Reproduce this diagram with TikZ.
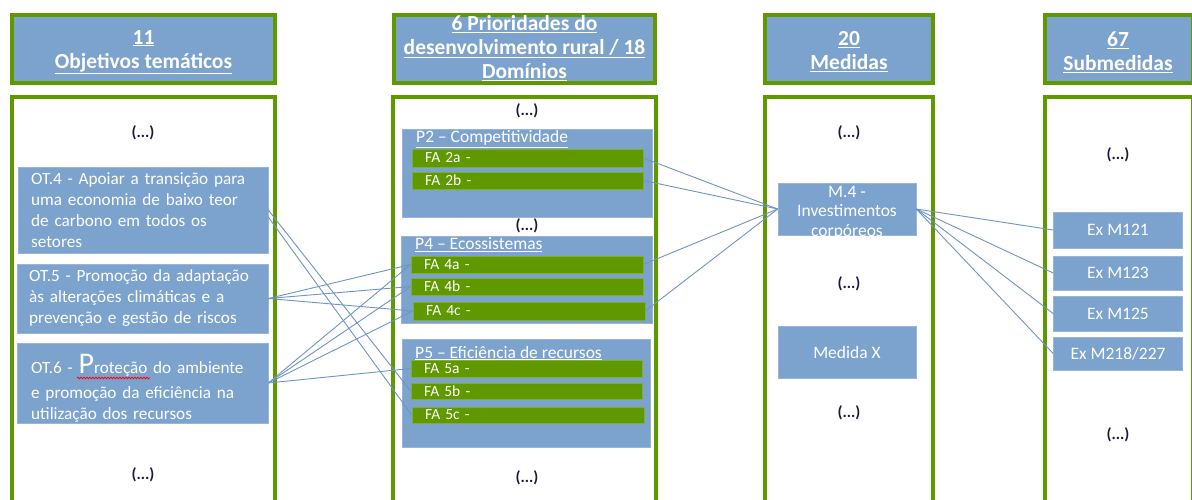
\documentclass[tikz,border=0pt]{standalone}
\usepackage{fontspec}
\setmainfont{Carlito}
\usetikzlibrary{calc,decorations.pathmorphing}
\definecolor{gr}{RGB}{96,152,0}
\definecolor{bl}{RGB}{124,162,206}
\definecolor{ln}{RGB}{111,148,197}
\definecolor{dk}{RGB}{25,25,60}
\begin{document}
\begin{tikzpicture}[x=1pt,y=-1pt,
  headbox/.style={draw=gr,line width=4pt,fill=bl,inner sep=0pt},
  headtext/.style={text=white,align=center,inner sep=0pt,
    font=\fontsize{21.5}{24}\selectfont\bfseries},
  colbox/.style={draw=gr,line width=4pt,fill=white,inner sep=0pt},
  bluebox/.style={fill=bl,draw=bl!80!white,line width=0.6pt,inner sep=0pt},
  fabar/.style={fill=gr,draw=gr!80!white,line width=0.6pt,text=white,inner xsep=13pt,inner ysep=0pt,
    align=left,font=\fontsize{15.5}{16}\selectfont},
  ptitle/.style={text=white,anchor=west,inner sep=0pt,font=\fontsize{17.5}{18}\selectfont},
  ottext/.style={text=white,anchor=west,inner sep=0pt,align=left,text width=236pt,
    font=\fontsize{17.2}{21}\selectfont},
  celltext/.style={text=white,inner sep=0pt,align=center,font=\fontsize{17.5}{19.5}\selectfont},
  dots/.style={text=dk,inner sep=0pt,font=\fontsize{16}{16}\selectfont\bfseries},
  link/.style={draw=ln,line width=0.9pt}]
\clip (0,0) rectangle (1192,499);
\fill[white] (0,0) rectangle (1192,499);
% headers
\node[headbox,minimum width=263pt,minimum height=68pt] (h1) at (143.5,49) {};
\node[headbox,minimum width=261pt,minimum height=68pt] (h2) at (524.5,49) {};
\node[headbox,minimum width=168pt,minimum height=68pt] (h3) at (849,49) {};
\node[headbox,minimum width=148pt,minimum height=68pt] (h4) at (1119,49) {};
\node[headtext] (h1t) at (143.5,52) {\underline{11}\\\underline{Objetivos temáticos}};
\node[headtext] (h2t) at (524.5,48.5) {\underline{6 Prioridades do}\\\underline{desenvolvimento rural / 18}\\\underline{Domínios}};
\node[headtext] (h3t) at (849,52) {\underline{20}\\\underline{Medidas}};
\node[headtext] (h4t) at (1118,52) {\underline{67}\\\underline{Submedidas}};
% column bodies
\node[colbox,minimum width=263pt,minimum height=423pt] (c1) at (143.5,308.5) {};
\node[colbox,minimum width=263pt,minimum height=423pt] (c2) at (524.5,308.5) {};
\node[colbox,minimum width=168pt,minimum height=423pt] (c3) at (849,308.5) {};
\node[colbox,minimum width=148pt,minimum height=423pt] (c4) at (1119,308.5) {};
% column 1
\node[dots] (d11) at (143,133) {(...)};
\node[dots] (d12) at (143,475) {(...)};
\node[bluebox,minimum width=250pt,minimum height=86pt] (ot4) at (143,210) {};
\node[bluebox,minimum width=251pt,minimum height=69pt] (ot5) at (142.5,298.5) {};
\node[bluebox,minimum width=251pt,minimum height=80pt] (ot6) at (142.5,383) {};
\node[ottext] (t4) at (31,210.5) {OT.4 - Apoiar a transição para\\uma economia de baixo teor\\de carbono em todos os\\setores};
\node[ottext] (t5) at (29,298) {OT.5 - Promoção da adaptação\\às alterações climáticas e a\\prevenção e gestão de riscos};
\node[ottext] (t6) at (31,388) {OT.6 - {\fontsize{30}{30}\selectfont P}roteção do ambiente\\[4pt]e promoção da eficiência na\\utilização dos recursos};
\draw[red,line width=0.7pt,decorate,decoration={snake,amplitude=0.9pt,segment length=3pt}] (77,378) -- (150,378);
% column 2
\node[dots] (d21) at (527,111) {(...)};
\node[dots] (d22) at (527,226) {(...)};
\node[dots] (d23) at (527,478) {(...)};
\node[bluebox,minimum width=250pt,minimum height=88pt] (p2) at (527,173) {};
\node[bluebox,minimum width=251pt,minimum height=87pt] (p4) at (526.5,279.5) {};
\node[bluebox,minimum width=248pt,minimum height=108pt] (p5) at (526,393) {};
\node[ptitle] (p2t) at (416,139) {\underline{P2 – Competitividade}};
\node[ptitle] (p4t) at (415,245) {\underline{P4 – Ecossistemas}};
\node[ptitle] (p5t) at (415,353) {\underline{P5 – Eficiência de recursos}};
\node[fabar,text width=205pt,minimum height=18pt] (fa2a) at (527.5,158) {FA 2a -};
\node[fabar,text width=205pt,minimum height=17pt] (fa2b) at (527.5,180.5) {FA 2b -};
\node[fabar,text width=206pt,minimum height=17pt] (fa4a) at (527,264.5) {FA 4a -};
\node[fabar,text width=206pt,minimum height=17pt] (fa4b) at (527,286.5) {FA 4b -};
\node[fabar,text width=206pt,minimum height=18pt] (fa4c) at (529,311) {FA 4c -};
\node[fabar,text width=205pt,minimum height=17pt] (fa5a) at (526.5,368.5) {FA 5a -};
\node[fabar,text width=205pt,minimum height=16pt] (fa5b) at (526.5,391) {FA 5b -};
\node[fabar,text width=206pt,minimum height=16pt] (fa5c) at (528,415) {FA 5c -};
% column 3
\node[dots] (d31) at (849,133) {(...)};
\node[dots] (d32) at (849,284) {(...)};
\node[dots] (d33) at (849,413) {(...)};
\node[bluebox,minimum width=138pt,minimum height=52pt] (m4) at (847,209) {};
\node[celltext] (m4t) at (847,212.5) {M.4 -\\Investimentos\\corpóreos};
\node[bluebox,minimum width=138pt,minimum height=52pt,celltext] (mx) at (847,352) {Medida X};
% column 4
\node[dots] (d41) at (1118,155) {(...)};
\node[dots] (d42) at (1118,435) {(...)};
\node[bluebox,minimum width=129pt,minimum height=36pt,celltext] (e121) at (1118,230) {Ex M121};
\node[bluebox,minimum width=129pt,minimum height=34pt,celltext] (e123) at (1118,273) {Ex M123};
\node[bluebox,minimum width=129pt,minimum height=35pt,celltext] (e125) at (1118,313.5) {Ex M125};
\node[bluebox,minimum width=129pt,minimum height=33pt,celltext] (e218) at (1118,353.5) {Ex M218/227};
% connectors
\draw[link] (ot4.east) -- (fa5b.west);
\draw[link] ($(ot4.east)+(0,7)$) -- (fa5c.west);
\draw[link] (ot5.east) -- (fa4a.west);
\draw[link] (ot5.east) -- (fa4b.west);
\draw[link] (ot5.east) -- (fa4c.west);
\draw[link] (ot6.east) -- (fa4a.west);
\draw[link] (ot6.east) -- (fa4b.west);
\draw[link] (ot6.east) -- (fa4c.west);
\draw[link] (ot6.east) -- (fa5a.west);
\draw[link] (fa2a.east) -- (m4.west);
\draw[link] (fa2b.east) -- (m4.west);
\draw[link] (fa4a.east) -- (m4.west);
\draw[link] (fa4c.east) -- (m4.west);
\draw[link] (m4.east) -- (e121.west);
\draw[link] (m4.east) -- (e123.west);
\draw[link] (m4.east) -- (e125.west);
\draw[link] (m4.east) -- (e218.west);
\end{tikzpicture}
\end{document}
